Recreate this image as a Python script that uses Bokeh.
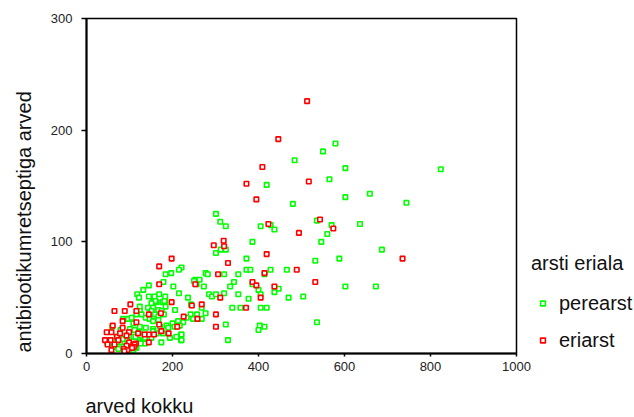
from bokeh.plotting import figure
from bokeh.layouts import row
from bokeh.models import (Range1d, FixedTicker, Legend, LegendItem, ColumnDataSource, Title,
                          LinearAxis)
from bokeh.embed import file_html
from bokeh.resources import INLINE

# ---------------- data ----------------
x_ticks = [0, 200, 400, 600, 800, 1000]
y_ticks = [0, 100, 200, 300]
series_names = ["perearst", "eriarst"]
legend_title = "arsti eriala"
x_title = "arved kokku"
y_title = "antibiootikumretseptiga arved"

perearst_x = [484, 419, 480, 301, 311, 324, 405, 428, 437, 536, 386,
              579, 550, 602, 824, 565, 602, 659, 744, 570, 636,
              560, 546, 687, 532, 588, 602, 673, 536,
              301, 312, 324, 372, 372, 381, 428, 466, 277, 282, 320, 353, 414,
              253, 263, 343, 273, 334, 386, 447, 400, 437, 405, 285, 292, 301, 320, 353, 377, 470, 504,
              268, 339, 358, 405, 419, 242, 257, 277, 254, 268, 324, 403, 414, 400, 329, 220, 220,
              221, 215, 197, 184, 179, 145, 202, 132, 118, 122, 145, 158, 169, 183, 215, 236, 250, 256,
              154, 163, 177, 183, 243,
              181, 160, 151, 184, 206, 124, 143, 155, 167, 175, 180, 124, 151, 159, 167, 85, 97, 105,
              116, 128, 138, 147, 155, 167, 186, 200, 213, 225, 233, 248, 109, 124, 138, 155, 171, 190,
              205, 217, 101, 112, 124, 136, 155, 163, 178, 109, 122, 136, 151, 124, 136, 174, 194, 209,
              221, 221, 62, 74, 93, 109, 116, 78, 48, 85, 70,
              60, 79, 98, 114, 95, 71, 87, 114, 126]
perearst_y = [173, 151, 134, 125, 118, 114, 114, 115, 111, 119, 100,
              188, 181, 166, 165, 156, 140, 143, 135, 115, 116,
              107, 100, 93, 83, 85, 60, 60, 28,
              90, 93, 93, 85, 75, 75, 75, 75, 72, 71, 71, 71, 71,
              66, 66, 64, 60, 60, 62, 58, 57, 55, 53, 53, 51, 53, 54, 53, 49, 50, 51,
              41, 41, 41, 41, 41, 35, 35, 36, 31, 31, 26, 25, 24, 21, 12, 12, 17,
              77, 75, 72, 71, 64, 61, 60, 57, 53, 50, 51, 51, 53, 51, 54, 50, 65, 62,
              46, 46, 46, 47, 44,
              47, 47, 45, 42, 39, 42, 41, 41, 39, 38, 35, 38, 38, 35, 33, 31, 31, 32,
              35, 35, 32, 31, 29, 30, 25, 27, 29, 28, 32, 31, 27, 24, 23, 22, 24, 23,
              24, 25, 22, 21, 19, 17, 20, 18, 18, 15, 12, 14, 14, 10, 9, 10, 14, 15,
              17, 12, 6, 4, 6, 3, 5, 10, 10, 13, 15,
              24, 21, 19, 15, 12, 10, 6, 6, 9]

eriarst_x = [513, 446, 409, 372, 517, 395, 423, 494, 543, 319, 296, 320, 574, 735, 532,
             419, 329, 489, 306, 414, 253, 386, 395, 437, 311, 405, 245, 268, 371, 301, 258, 301,
             198, 169, 169, 198, 102,
             65, 89, 116, 145, 173, 84, 116, 226, 169, 61, 84, 211, 58, 47, 99, 120, 145, 174, 191,
             71, 78, 93, 43, 56, 74, 99, 115, 109, 145, 93, 49, 65, 58, 87, 95, 135, 157, 112, 110,
             106, 88]
eriarst_y = [226, 192, 167, 152, 154, 138, 116, 108, 120, 101, 97, 96, 112, 85, 64,
             89, 81, 75, 71, 72, 62, 64, 61, 60, 50, 50, 43, 44, 41, 35, 31, 24,
             85, 78, 62, 46, 44,
             38, 38, 38, 35, 36, 29, 28, 33, 26, 25, 23, 24, 19, 19, 19, 18, 17, 20, 18,
             15, 18, 16, 12, 12, 12, 10, 9, 8, 10, 7, 8, 8, 3, 4, 3, 17, 17, 8, 6,
             5, 2]

green = "#00ff00"
red = "#ff0000"
FONT = "Liberation Sans"
TXT = "#111111"

# ---------------- main figure ----------------
p = figure(width=531, height=417, output_backend="svg", toolbar_location=None,
           x_range=Range1d(0, 1000), y_range=Range1d(0, 300),
           min_border_left=86, min_border_right=15, min_border_top=18, min_border_bottom=64,
           background_fill_color="white", border_fill_color="white")
p.xgrid.visible = False
p.ygrid.visible = False
p.outline_line_color = "black"
p.outline_line_width = 1.5
p.outline_line_alpha = 1

for ax, ticks in ((p.xaxis, x_ticks), (p.yaxis, y_ticks)):
    ax.ticker = FixedTicker(ticks=ticks)
    ax.minor_tick_line_color = None
    ax.major_tick_in = 0
    ax.major_tick_line_width = 1.5
    ax.axis_line_width = 2
    ax.axis_line_color = "black"
    ax.major_tick_line_color = "black"
    ax.major_label_text_font = FONT
    ax.major_label_text_font_size = "13px"
    ax.major_label_text_color = "#222222"
p.xaxis.major_tick_out = 3
p.yaxis.major_tick_out = 5
p.xaxis.major_label_standoff = 5
p.yaxis.major_label_standoff = 9

src_g = ColumnDataSource(dict(x=perearst_x, y=perearst_y))
src_r = ColumnDataSource(dict(x=eriarst_x, y=eriarst_y))
style_g = dict(marker="square", size=4.5, line_color=green, line_width=1.6, fill_color="white")
style_r = dict(marker="square", size=4.5, line_color=red, line_width=1.6, fill_color="white")
p.scatter("x", "y", source=src_g, **style_g)
p.scatter("x", "y", source=src_r, **style_r)

# invisible (white, label-less) spacer axis between the x axis and its title
spacer = LinearAxis(ticker=FixedTicker(ticks=[500]), axis_line_color=None,
                    major_tick_line_color="white", minor_tick_line_color=None,
                    major_tick_in=0, major_tick_out=18, minor_tick_in=0, minor_tick_out=0,
                    major_label_standoff=0, major_label_overrides={500: ""})
p.add_layout(spacer, "below")

xt = Title(text=x_title, align="left", offset=-1, standoff=2, vertical_align="bottom",
           text_font=FONT, text_font_size="20px", text_font_style="normal", text_color=TXT)
p.add_layout(xt, "below")
yt = Title(text=y_title, align="left", offset=1, standoff=21, vertical_align="top",
           text_font=FONT, text_font_size="20px", text_font_style="normal", text_color=TXT)
p.add_layout(yt, "left")

# ---------------- legend panel ----------------
lf = figure(width=103, height=417, output_backend="svg", toolbar_location=None,
            x_axis_location=None, y_axis_location=None, min_border=0,
            x_range=Range1d(0, 1), y_range=Range1d(0, 1),
            background_fill_color="white", border_fill_color="white")
lf.outline_line_color = None
lf.xgrid.visible = False
lf.ygrid.visible = False
lg = lf.scatter("x", "y", source=src_g, visible=False, **style_g)
lr = lf.scatter("x", "y", source=src_r, visible=False, **style_r)

legend = Legend(items=[LegendItem(label=series_names[0], renderers=[lg]),
                       LegendItem(label=series_names[1], renderers=[lr])],
                title=legend_title, location=(0, 0))
legend.title_text_font = FONT
legend.title_text_font_size = "20px"
legend.title_text_font_style = "normal"
legend.title_text_color = TXT
legend.title_standoff = 15
legend.label_text_font = FONT
legend.label_text_font_size = "20px"
legend.label_text_color = TXT
legend.glyph_width = 23
legend.glyph_height = 12
legend.label_height = 26
legend.label_standoff = 5
legend.spacing = 11
legend.padding = 0
legend.margin = 0
legend.border_line_alpha = 0
legend.background_fill_alpha = 0
lf.add_layout(legend, "center")

layout = row(p, lf, spacing=0)
open("out.html", "w").write(file_html(layout, INLINE))
